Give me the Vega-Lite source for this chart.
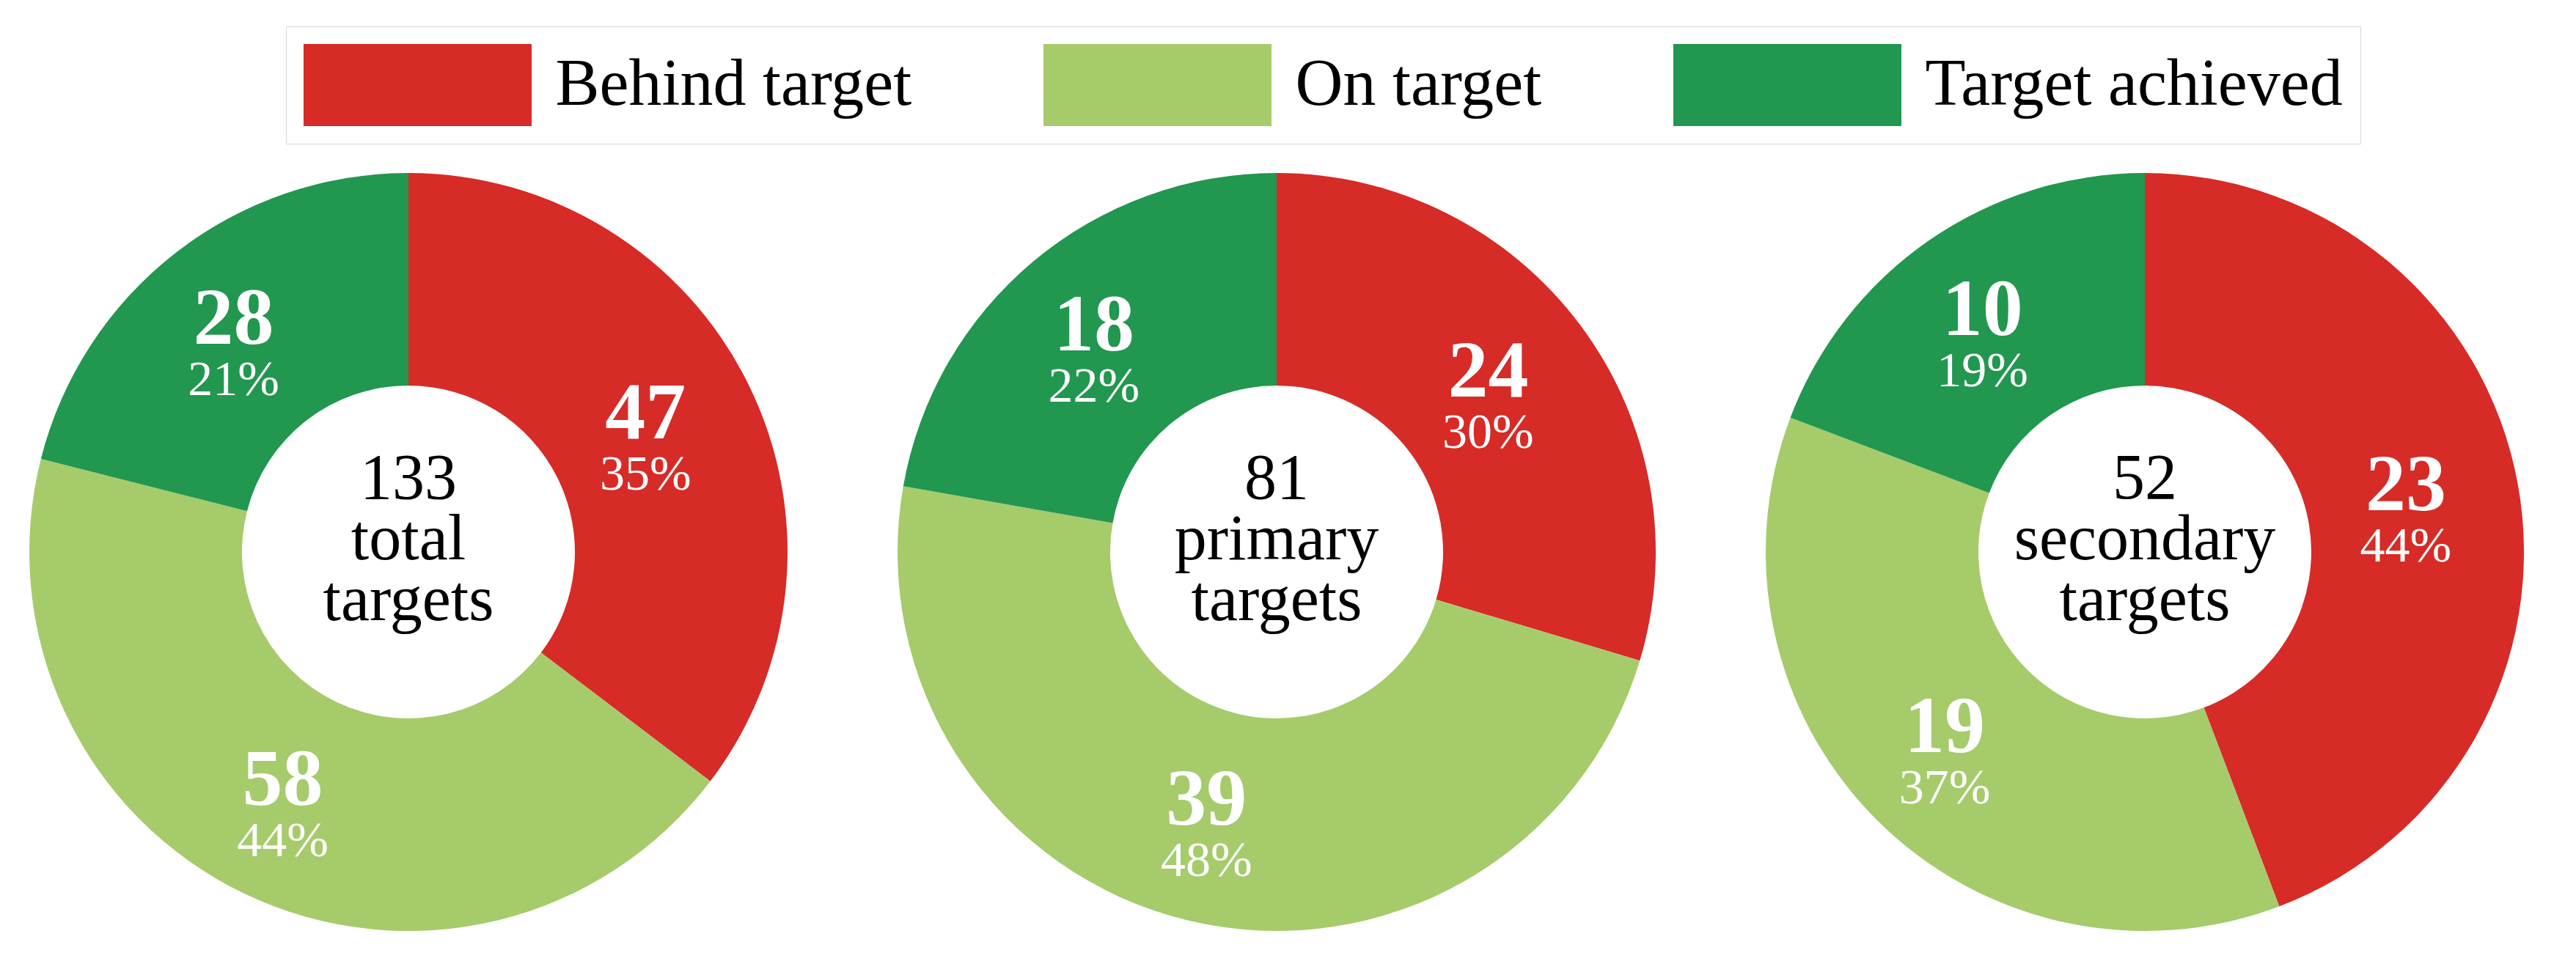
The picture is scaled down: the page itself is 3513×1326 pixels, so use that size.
{
  "$schema": "https://vega.github.io/schema/vega-lite/v6.json",
  "background": "white",
  "padding": {"left": 7, "top": 35, "right": 0, "bottom": 0},
  "spacing": 84,
  "datasets": {
    "slices": [
      {"chart": "total", "status": "Behind target", "count": 47, "pct": "35%"},
      {"chart": "total", "status": "On target", "count": 58, "pct": "44%"},
      {"chart": "total", "status": "Target achieved", "count": 28, "pct": "21%"},
      {"chart": "primary", "status": "Behind target", "count": 24, "pct": "30%"},
      {"chart": "primary", "status": "On target", "count": 39, "pct": "48%"},
      {"chart": "primary", "status": "Target achieved", "count": 18, "pct": "22%"},
      {"chart": "secondary", "status": "Behind target", "count": 23, "pct": "44%"},
      {"chart": "secondary", "status": "On target", "count": 19, "pct": "37%"},
      {"chart": "secondary", "status": "Target achieved", "count": 10, "pct": "19%"}
    ],
    "centers": [
      {"chart": "total", "label": "133\ntotal\ntargets"},
      {"chart": "primary", "label": "81\nprimary\ntargets"},
      {"chart": "secondary", "label": "52\nsecondary\ntargets"}
    ]
  },
  "config": {"view": {"stroke": null}, "font": "Liberation Serif"},
  "resolve": {"scale": {"theta": "independent", "color": "shared"}, "legend": {"color": "shared"}},
  "hconcat": [
    {
      "width": 1100, "height": 1100,
      "layer": [
        {"data": {"name": "slices"}, "transform": [{"filter": {"field": "chart", "equal": "total"}}],
         "mark": {"type": "arc", "outerRadius": 517, "innerRadius": 227},
         "encoding": {
           "theta": {"field": "count", "type": "quantitative", "stack": true},
           "order": {"field": "status", "sort": "ascending"},
           "color": {"field": "status", "type": "nominal",
             "scale": {"domain": ["Behind target", "On target", "Target achieved"], "range": ["#D62B27", "#A6CB6B", "#21974F"]},
             "legend": {"title": null, "orient": "none", "legendX": 383, "legendY": -167, "direction": "horizontal",
               "symbolType": "M-2.777,-1H2.777V1H-2.777Z", "symbolSize": 12544, "symbolStrokeWidth": 0, "symbolOffset": 99.5,
               "labelFont": "Liberation Serif", "labelFontSize": 90, "labelColor": "#000000", "labelOffset": 132, "labelLimit": 0,
               "columnPadding": 178, "strokeColor": "#d6d6d6", "fillColor": "white", "padding": 24}}
         }},
        {"data": {"name": "slices"}, "transform": [{"filter": {"field": "chart", "equal": "total"}}],
         "mark": {"type": "text", "radius": 372, "fontSize": 110, "fontWeight": "bold", "baseline": "alphabetic", "dx": -10, "dy": 10, "color": "white", "font": "Liberation Serif"},
         "encoding": {
           "theta": {"field": "count", "type": "quantitative", "stack": true},
           "order": {"field": "status", "sort": "ascending"},
           "detail": {"field": "status"},
           "text": {"field": "count"}
         }},
        {"data": {"name": "slices"}, "transform": [{"filter": {"field": "chart", "equal": "total"}}],
         "mark": {"type": "text", "radius": 372, "fontSize": 68, "baseline": "alphabetic", "dx": -10, "dy": 80, "color": "white", "font": "Liberation Serif"},
         "encoding": {
           "theta": {"field": "count", "type": "quantitative", "stack": true},
           "order": {"field": "status", "sort": "ascending"},
           "detail": {"field": "status"},
           "text": {"field": "pct"}
         }},
        {"data": {"name": "centers"}, "transform": [{"filter": {"field": "chart", "equal": "total"}}],
         "mark": {"type": "text", "fontSize": 88, "lineHeight": 83, "lineBreak": "\n", "baseline": "alphabetic", "dy": -73, "color": "black", "font": "Liberation Serif"},
         "encoding": {"text": {"field": "label"}}}
      ]
    },
    {
      "width": 1100, "height": 1100,
      "layer": [
        {"data": {"name": "slices"}, "transform": [{"filter": {"field": "chart", "equal": "primary"}}],
         "mark": {"type": "arc", "outerRadius": 517, "innerRadius": 227},
         "encoding": {
           "theta": {"field": "count", "type": "quantitative", "stack": true},
           "order": {"field": "status", "sort": "ascending"},
           "color": {"field": "status", "type": "nominal",
             "scale": {"domain": ["Behind target", "On target", "Target achieved"], "range": ["#D62B27", "#A6CB6B", "#21974F"]},
             "legend": {"title": null, "orient": "none", "legendX": 383, "legendY": -167, "direction": "horizontal",
               "symbolType": "M-2.777,-1H2.777V1H-2.777Z", "symbolSize": 12544, "symbolStrokeWidth": 0, "symbolOffset": 99.5,
               "labelFont": "Liberation Serif", "labelFontSize": 90, "labelColor": "#000000", "labelOffset": 132, "labelLimit": 0,
               "columnPadding": 178, "strokeColor": "#d6d6d6", "fillColor": "white", "padding": 24}}
         }},
        {"data": {"name": "slices"}, "transform": [{"filter": {"field": "chart", "equal": "primary"}}],
         "mark": {"type": "text", "radius": 372, "fontSize": 110, "fontWeight": "bold", "baseline": "alphabetic", "dx": -10, "dy": 10, "color": "white", "font": "Liberation Serif"},
         "encoding": {
           "theta": {"field": "count", "type": "quantitative", "stack": true},
           "order": {"field": "status", "sort": "ascending"},
           "detail": {"field": "status"},
           "text": {"field": "count"}
         }},
        {"data": {"name": "slices"}, "transform": [{"filter": {"field": "chart", "equal": "primary"}}],
         "mark": {"type": "text", "radius": 372, "fontSize": 68, "baseline": "alphabetic", "dx": -10, "dy": 80, "color": "white", "font": "Liberation Serif"},
         "encoding": {
           "theta": {"field": "count", "type": "quantitative", "stack": true},
           "order": {"field": "status", "sort": "ascending"},
           "detail": {"field": "status"},
           "text": {"field": "pct"}
         }},
        {"data": {"name": "centers"}, "transform": [{"filter": {"field": "chart", "equal": "primary"}}],
         "mark": {"type": "text", "fontSize": 88, "lineHeight": 83, "lineBreak": "\n", "baseline": "alphabetic", "dy": -73, "color": "black", "font": "Liberation Serif"},
         "encoding": {"text": {"field": "label"}}}
      ]
    },
    {
      "width": 1100, "height": 1100,
      "layer": [
        {"data": {"name": "slices"}, "transform": [{"filter": {"field": "chart", "equal": "secondary"}}],
         "mark": {"type": "arc", "outerRadius": 517, "innerRadius": 227},
         "encoding": {
           "theta": {"field": "count", "type": "quantitative", "stack": true},
           "order": {"field": "status", "sort": "ascending"},
           "color": {"field": "status", "type": "nominal",
             "scale": {"domain": ["Behind target", "On target", "Target achieved"], "range": ["#D62B27", "#A6CB6B", "#21974F"]},
             "legend": {"title": null, "orient": "none", "legendX": 383, "legendY": -167, "direction": "horizontal",
               "symbolType": "M-2.777,-1H2.777V1H-2.777Z", "symbolSize": 12544, "symbolStrokeWidth": 0, "symbolOffset": 99.5,
               "labelFont": "Liberation Serif", "labelFontSize": 90, "labelColor": "#000000", "labelOffset": 132, "labelLimit": 0,
               "columnPadding": 178, "strokeColor": "#d6d6d6", "fillColor": "white", "padding": 24}}
         }},
        {"data": {"name": "slices"}, "transform": [{"filter": {"field": "chart", "equal": "secondary"}}],
         "mark": {"type": "text", "radius": 372, "fontSize": 110, "fontWeight": "bold", "baseline": "alphabetic", "dx": -10, "dy": 10, "color": "white", "font": "Liberation Serif"},
         "encoding": {
           "theta": {"field": "count", "type": "quantitative", "stack": true},
           "order": {"field": "status", "sort": "ascending"},
           "detail": {"field": "status"},
           "text": {"field": "count"}
         }},
        {"data": {"name": "slices"}, "transform": [{"filter": {"field": "chart", "equal": "secondary"}}],
         "mark": {"type": "text", "radius": 372, "fontSize": 68, "baseline": "alphabetic", "dx": -10, "dy": 80, "color": "white", "font": "Liberation Serif"},
         "encoding": {
           "theta": {"field": "count", "type": "quantitative", "stack": true},
           "order": {"field": "status", "sort": "ascending"},
           "detail": {"field": "status"},
           "text": {"field": "pct"}
         }},
        {"data": {"name": "centers"}, "transform": [{"filter": {"field": "chart", "equal": "secondary"}}],
         "mark": {"type": "text", "fontSize": 88, "lineHeight": 83, "lineBreak": "\n", "baseline": "alphabetic", "dy": -73, "color": "black", "font": "Liberation Serif"},
         "encoding": {"text": {"field": "label"}}}
      ]
    }
  ]
}
